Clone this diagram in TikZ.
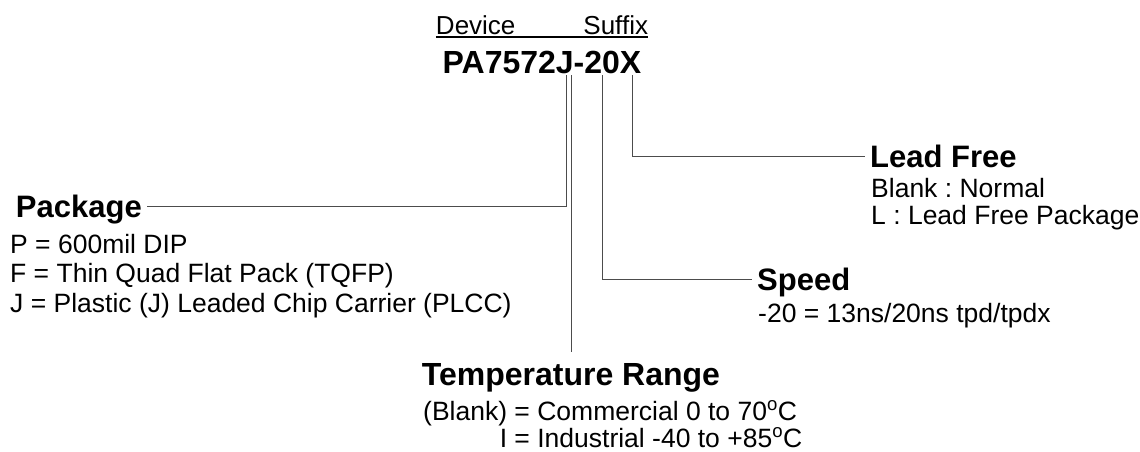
\documentclass[tikz,border=0pt]{standalone}
\usepackage{fontspec}
\setmainfont{Liberation Sans}
\usepackage{array}
\frenchspacing

\begin{document}
\begin{tikzpicture}[x=1pt,y=-1pt,
  hdr/.style={font=\fontsize{31}{31}\selectfont\bfseries, inner ysep=0pt, inner xsep=5pt, text height=22pt, text depth=0pt},
  txt/.style={font=\fontsize{26.5}{26}\selectfont, inner sep=0pt, anchor=base west},
  lead/.style={draw=black!70, line width=0.9pt}]
\useasboundingbox (0,0) rectangle (1140,451);
\setlength{\tabcolsep}{0pt}

\node[txt, anchor=base, font=\fontsize{26}{26}\selectfont] (devsuf) at (542,34) {Device\hspace{68pt}Suffix};
\draw[line width=1.2pt] ([yshift=-3pt]devsuf.base west) -- ([yshift=-3pt]devsuf.base east);
\node[hdr, anchor=base, font=\fontsize{32}{32}\selectfont\bfseries] (part) at (542,73) {PA7572J-20X};

\coordinate (pkgtap) at (566,75);
\coordinate (temptap) at (571,75);
\coordinate (spdtap) at (602,75);
\coordinate (lftap) at (632,75);

\node[hdr, anchor=base east] (pkg) at (147,217) {Package};
\node[txt, font=\fontsize{26.5}{29.5}\selectfont] (pkgtxt) at (10,253) {\begin{tabular}[t]{l}
  P = 600mil DIP\\
  F = Thin Quad Flat Pack (TQFP)\\
  J = Plastic (J) Leaded Chip Carrier (PLCC)
  \end{tabular}};

\node[hdr, anchor=base west] (lf) at (865,167) {Lead Free};
\node[txt] (lftxt) at (871,197) {\begin{tabular}[t]{l}
  Blank : Normal\\
  L : Lead Free Package
  \end{tabular}};

\node[hdr, anchor=base west] (spd) at (752,290) {Speed};
\node[txt] (spdtxt) at (758,322) {-20 = 13ns/20ns tpd/tpdx};

\node[hdr, anchor=base, font=\fontsize{32}{32}\selectfont\bfseries] (temp) at (571,385) {Temperature Range};
\node[txt] (temptxt) at (423,420) {\begin{tabular}[t]{r@{ = }l}
  (Blank) & Commercial 0 to 70\textsuperscript{o}C\\
  I & Industrial -40 to +85\textsuperscript{o}C
  \end{tabular}};

\draw[lead] (pkgtap) |- (pkg);
\draw[lead, shorten >=11pt] (temptap) -- (temptap |- temp.north);
\draw[lead] (spdtap) |- (spd);
\draw[lead] (lftap) |- (lf);
\end{tikzpicture}
\end{document}
